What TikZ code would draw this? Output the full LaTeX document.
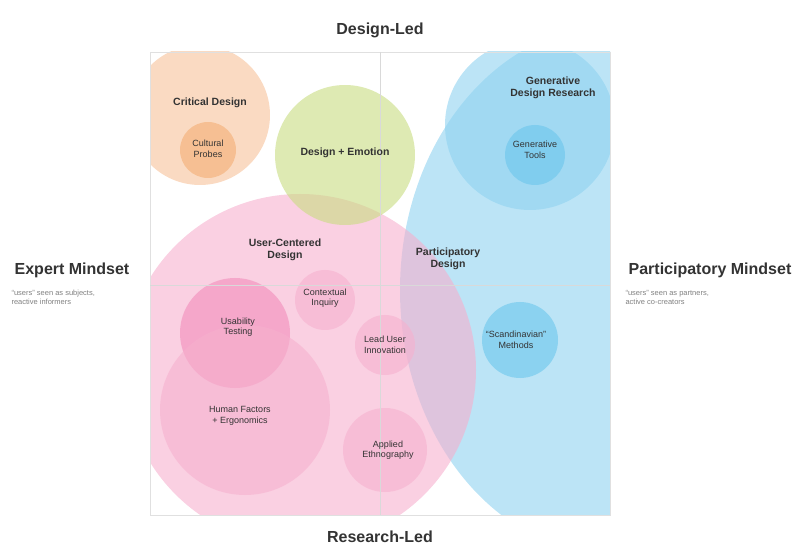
\documentclass[tikz,border=0pt]{standalone}
\usepackage{fontspec}
\setmainfont{Liberation Sans}
\definecolor{peach}{HTML}{F7C29A}
\definecolor{peachdark}{HTML}{F3AE74}
\definecolor{lime}{HTML}{C8DC80}
\definecolor{sky}{HTML}{8FD2F0}
\definecolor{skydark}{HTML}{6CC6EC}
\definecolor{rose}{HTML}{F6B0CE}
\definecolor{rosedark}{HTML}{F28DBB}
\definecolor{inkgray}{HTML}{333333}
\begin{document}
\begin{tikzpicture}[x=1pt, y=-1pt]
        \tikzset{Axis/.style={font=\bfseries\fontsize{16}{18}\selectfont, text=inkgray}}
        \tikzset{Note/.style={font=\fontsize{7.5}{8.5}\selectfont, text=gray, align=left}}
        \tikzset{Big/.style={font=\bfseries\fontsize{10.5}{12.5}\selectfont, text=inkgray, align=center}}
        \tikzset{Small/.style={font=\fontsize{9}{10.5}\selectfont, text=inkgray, align=center}}
        \tikzset{Blob/.style={fill opacity=0.6, draw=none}}

        \useasboundingbox (0,0) rectangle (796,548);

        % bubbles
        \begin{scope}
            \clip (150,52) rectangle (610,515);
            \fill[peach, Blob] (200,115) circle (70);
            \fill[peachdark, Blob] (208,150) circle (28);
            \fill[sky, Blob] (615,290) ellipse (215 and 265);
            \fill[sky, Blob] (530,125) circle (85);
            \fill[skydark, Blob] (535,155) circle (30);
            \fill[skydark, Blob] (520,340) circle (38);
            \fill[rose, Blob] (300,370) circle (176);
            \fill[lime, Blob] (345,155) circle (70);
            \fill[rosedark, Blob] (235,333) circle (55);
            \fill[rose, Blob] (245,410) circle (85);
            \fill[rose, Blob] (325,300) circle (30);
            \fill[rose, Blob] (385,345) circle (30);
            \fill[rose, Blob] (385,450) circle (42);
        \end{scope}

        % frame and axes
        \draw[black!12] (150,52) rectangle (610,515);
        \draw[black!15] (380,52) -- (380,515);
        \draw[black!15] (150,285) -- (610,285);

        % labels
        \node[Axis] (led1) at (380,30) {Design-Led};
        \node[Axis] (led2) at (380,537) {Research-Led};
        \node[Axis] (expert) at (72,270) {Expert Mindset};
        \node[Note, anchor=north west] (expertnote) at (8,287) {“users” seen as subjects,\\reactive informers};
        \node[Axis] (partic) at (710,270) {Participatory Mindset};
        \node[Note, anchor=north west] (particnote) at (622,287) {“users” seen as partners,\\active co-creators};

        \node[Big] (critical) at (210,103) {Critical Design};
        \node[Small] (probes) at (208,149) {Cultural\\Probes};
        \node[Big] (emotion) at (345,153) {Design + Emotion};
        \node[Big] (generative) at (553,88) {Generative\\Design Research};
        \node[Small] (tools) at (535,150) {Generative\\Tools};
        \node[Big] (ucd) at (285,250) {User-Centered\\Design};
        \node[Big] (pd) at (448,259) {Participatory\\Design};
        \node[Small] (inquiry) at (325,298) {Contextual\\Inquiry};
        \node[Small] (leaduser) at (385,345) {Lead User\\Innovation};
        \node[Small] (usability) at (238,327) {Usability\\Testing};
        \node[Small] (factors) at (240,416) {Human Factors\\+ Ergonomics};
        \node[Small] (ethno) at (388,450) {Applied\\Ethnography};
        \node[Small] (scandi) at (516,340) {“Scandinavian”\\Methods};
    \end{tikzpicture}
\end{document}
